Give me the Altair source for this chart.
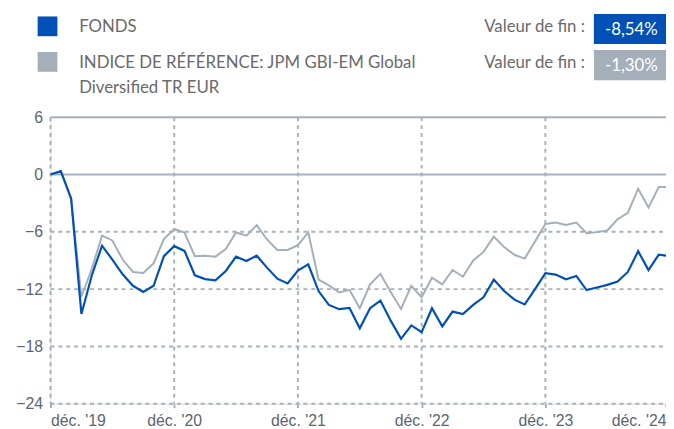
import altair as alt
import pandas as pd

# ---- data (monthly, index 0 = déc. 2019) ----
months = list(range(61))
fonds = [0, 0.35, -2.5, -14.6, -10.6, -7.45, -8.9, -10.45, -11.65, -12.3, -11.65, -8.55,
         -7.5, -8.0, -10.55, -10.95, -11.07, -10.1, -8.6, -9.05, -8.5, -9.75, -10.9, -11.4,
         -10.05, -9.4, -12.2, -13.65, -14.1, -13.97, -16.1, -14.0, -13.2, -15.3, -17.2, -15.8,
         -16.5, -14.0, -15.9, -14.35, -14.6, -13.65, -12.86, -11.0, -12.2, -13.1, -13.6, -12.0,
         -10.32, -10.48, -10.97, -10.62, -12.1, -11.83, -11.55, -11.2, -10.2, -8.03, -10.0, -8.38,
         -8.54]
indice = [0, 0.35, -2.5, -12.8, -9.9, -6.4, -6.9, -8.9, -10.2, -10.3, -9.3, -6.75,
          -5.7, -6.07, -8.55, -8.5, -8.6, -7.8, -6.07, -6.4, -5.3, -6.8, -7.9, -7.9,
          -7.4, -6.07, -11.0, -11.6, -12.35, -12.07, -14.0, -11.5, -10.4, -12.3, -14.07, -11.65,
          -12.86, -10.8, -11.5, -10.0, -10.7, -9.0, -8.1, -6.5, -7.6, -8.4, -8.8, -7.0,
          -5.17, -5.03, -5.28, -5.03, -6.14, -6.03, -5.86, -4.69, -4.0, -1.48, -3.45, -1.3,
          -1.3]
series_names = ["FONDS", "INDICE DE RÉFÉRENCE: JPM GBI-EM Global\nDiversified TR EUR"]
series_colors = ["#0050B5", "#A4AFB9"]
x_tick_values = [0, 12, 24, 36, 48, 59.7]
x_tick_labels = ["déc. '19", "déc. '20", "déc. '21", "déc. '22", "déc. '23", "déc. '24"]
x_grid = [0, 12, 24, 36, 48]
y_ticks = [6, 0, -6, -12, -18, -24]
y_solid = [6, 0]
y_dashed = [-6, -12, -18, -24]

W, H = 623, 290
AXIS_COLOR = "#5B6573"
GRID_COLOR = "#A7B1BD"
TEXT_COLOR = "#6A6A6A"
LEG_FONT = "Lato"
LEG_SIZE = 17

df = pd.DataFrame({
    "month": months * 2,
    "value": fonds + indice,
    "series": ["FONDS"] * len(months) + ["INDICE"] * len(months),
})

label_js = "[" + ",".join('"%s"' % t for t in x_tick_labels) + "]"

xscale = alt.Scale(domain=[0, 59.7], nice=False, zero=False)
yscale = alt.Scale(domain=[-24, 6], nice=False, zero=False)

xaxis = alt.Axis(values=x_tick_values, labelExpr=label_js + "[round(datum.value/12)]",
                 grid=False, domain=False, ticks=True, tickSize=7, tickColor=GRID_COLOR,
                 tickDash=[4, 4], tickWidth=2, labelFlush=True, labelFont="Liberation Sans",
                 labelFontSize=16, labelColor=AXIS_COLOR, labelPadding=2, title=None)
yaxis = alt.Axis(values=y_ticks, grid=False, domain=False, ticks=False, labelPadding=8,
                 labelFont="Liberation Sans", labelFontSize=16, labelColor=AXIS_COLOR,
                 title=None)

base = alt.Chart(df)

gray_line = base.transform_filter(alt.datum.series == "INDICE").mark_line(
    color=series_colors[1], strokeWidth=2, clip=True
).encode(x=alt.X("month:Q", scale=xscale, axis=xaxis),
         y=alt.Y("value:Q", scale=yscale, axis=yaxis))

blue_line = base.transform_filter(alt.datum.series == "FONDS").mark_line(
    color=series_colors[0], strokeWidth=2.2, clip=True
).encode(x=alt.X("month:Q", scale=xscale), y=alt.Y("value:Q", scale=yscale))

vgrid = alt.Chart(pd.DataFrame({"m": x_grid})).mark_rule(
    color=GRID_COLOR, strokeWidth=2, strokeDash=[4, 4]
).encode(x=alt.X("m:Q", scale=xscale), y=alt.value(0), y2=alt.value(H))

hsolid = alt.Chart(pd.DataFrame({"v": y_solid})).mark_rule(
    color=GRID_COLOR, strokeWidth=2
).encode(y=alt.Y("v:Q", scale=yscale), x=alt.value(0), x2=alt.value(W))

hdash = alt.Chart(pd.DataFrame({"v": y_dashed})).mark_rule(
    color=GRID_COLOR, strokeWidth=2, strokeDash=[4, 4]
).encode(y=alt.Y("v:Q", scale=yscale), x=alt.value(0), x2=alt.value(W))

# ---- header legend ----
def fmt(v):
    return ("%.2f" % v).replace(".", ",") + "%"

end_vals = [fmt(fonds[-1]), fmt(indice[-1])]
leg_rows = [(-102, -86), (-66, -49.5)]  # square top, text baseline
legend_layers = []
for i in range(2):
    sq_top, base_y = leg_rows[i]
    one = alt.Chart(pd.DataFrame({"name": [series_names[i]], "end": [end_vals[i]]}))
    legend_layers.append(one.mark_rect(color=series_colors[i]).encode(
        x=alt.value(-13), x2=alt.value(7), y=alt.value(sq_top), y2=alt.value(sq_top + 20)))
    legend_layers.append(one.mark_text(
        align="left", baseline="alphabetic", font=LEG_FONT, fontSize=LEG_SIZE,
        color=TEXT_COLOR, lineBreak="\n", lineHeight=25
    ).encode(text="name:N", x=alt.value(29), y=alt.value(base_y)))
    legend_layers.append(one.mark_text(
        align="left", baseline="alphabetic", font=LEG_FONT, fontSize=LEG_SIZE, color=TEXT_COLOR
    ).encode(text=alt.value("Valeur de fin :"), x=alt.value(439), y=alt.value(base_y)))
    legend_layers.append(one.mark_rect(color=series_colors[i]).encode(
        x=alt.value(550), x2=alt.value(623), y=alt.value(base_y - 18.5),
        y2=alt.value(base_y + 12)))
    legend_layers.append(one.mark_text(
        align="center", baseline="alphabetic", font=LEG_FONT, fontSize=LEG_SIZE, color="white"
    ).encode(text="end:N", x=alt.value(588), y=alt.value(base_y + 3)))

chart = alt.layer(vgrid, hsolid, hdash, gray_line, blue_line, *legend_layers).properties(
    width=W, height=H,
    autosize=alt.AutoSizeParams(type="none"),
    padding={"left": 43, "top": 108, "right": 0, "bottom": 22},
).configure_view(stroke=None).configure(background="white")

chart.save("out.html", embed_options={"renderer": "svg", "actions": False})
